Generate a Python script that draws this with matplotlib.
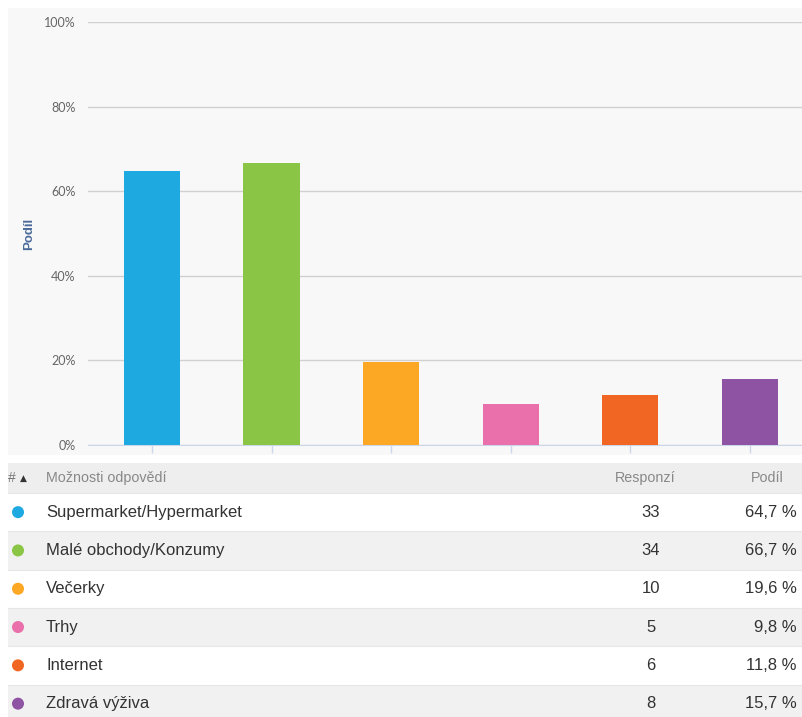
import matplotlib.pyplot as plt
from matplotlib.patches import Rectangle

# data
labels = ["Supermarket/Hypermarket", "Malé obchody/Konzumy", "Večerky",
          "Trhy", "Internet", "Zdravá výživa"]
responses = [33, 34, 10, 5, 6, 8]
shares = [64.7, 66.7, 19.6, 9.8, 11.8, 15.7]
colors = ["#1ea9e1", "#8bc546", "#fda824", "#e970ab", "#f26624", "#8e54a3"]
yticks = [0, 20, 40, 60, 80, 100]

plt.rcParams['font.family'] = ['Liberation Sans', 'DejaVu Sans']

W, H = 802, 717
fig = plt.figure(figsize=(W / 100, H / 100), dpi=100)
fig.patch.set_facecolor("white")

# gray panel behind chart
fig.patches.append(Rectangle((8 / W, 1 - 455 / H), (W - 8) / W, (455 - 8) / H,
                             transform=fig.transFigure, facecolor="#f8f8f8",
                             edgecolor="none", zorder=-5))

ax = fig.add_axes([88 / W, 1 - 445 / H, (802 - 88) / W, (445 - 22) / H], zorder=2)
ax.set_facecolor("none")
x = list(range(len(labels)))
ax.bar(x, shares, width=0.47, color=colors, zorder=3)
ax.set_xlim(-0.535, 5.435)
ax.set_ylim(0, 100)
ax.set_yticks(yticks)
ax.set_yticklabels([f"{t}%" for t in yticks], fontsize=9, color="#666666",
                   family=["Lato", "DejaVu Sans"])
ax.yaxis.grid(True, color="#d0d0d0", linewidth=1, zorder=0)
ax.tick_params(axis="y", length=0, pad=9)
ax.set_xticks(x)
ax.set_xticklabels([])
ax.tick_params(axis="x", length=6, color="#ccd6eb", width=1)
for s in ["top", "right", "left"]:
    ax.spines[s].set_visible(False)
ax.spines["bottom"].set_color("#ccd6eb")
ax.set_ylabel("Podíl", fontsize=9.5, color="#4a6a9a", fontweight="bold", labelpad=6)

# table
tb = fig.add_axes([0, 0, 1, 1], zorder=1)
tb.set_xlim(0, W)
tb.set_ylim(H, 0)
tb.axis("off")

tb.add_patch(Rectangle((8, 463), W - 8, 30, facecolor="#eeeeee", edgecolor="none"))
hy = 478
tb.text(8, hy, "#", fontsize=10, color="#777777", va="center")
tb.text(20, hy, "▲", fontsize=6.5, color="#333333", va="center", family="DejaVu Sans")
tb.text(46, hy, "Možnosti odpovědí", fontsize=10.3, color="#888888", va="center")
tb.text(645, hy, "Responzí", fontsize=10.3, color="#888888", va="center", ha="center")
tb.text(767, hy, "Podíl", fontsize=10.3, color="#888888", va="center", ha="center")

row_h = 38.3
for i, (lab, r, s, c) in enumerate(zip(labels, responses, shares, colors)):
    top = 493 + i * row_h
    fc = "#ffffff" if i % 2 == 0 else "#f1f1f1"
    tb.add_patch(Rectangle((8, top), W - 8, row_h, facecolor=fc, edgecolor="none"))
    tb.plot([8, W], [top, top], color="#e6e6e6", linewidth=0.8)
    cy = top + row_h / 2
    tb.scatter([18], [cy], s=75, color=c, edgecolors="none")
    tb.text(46, cy, lab, fontsize=12, color="#333333", va="center")
    tb.text(651, cy, str(r), fontsize=12, color="#333333", va="center", ha="center")
    tb.text(797, cy, f"{s:.1f} %".replace(".", ","), fontsize=12, color="#333333",
            va="center", ha="right")

fig.savefig("out.png", dpi=100)
